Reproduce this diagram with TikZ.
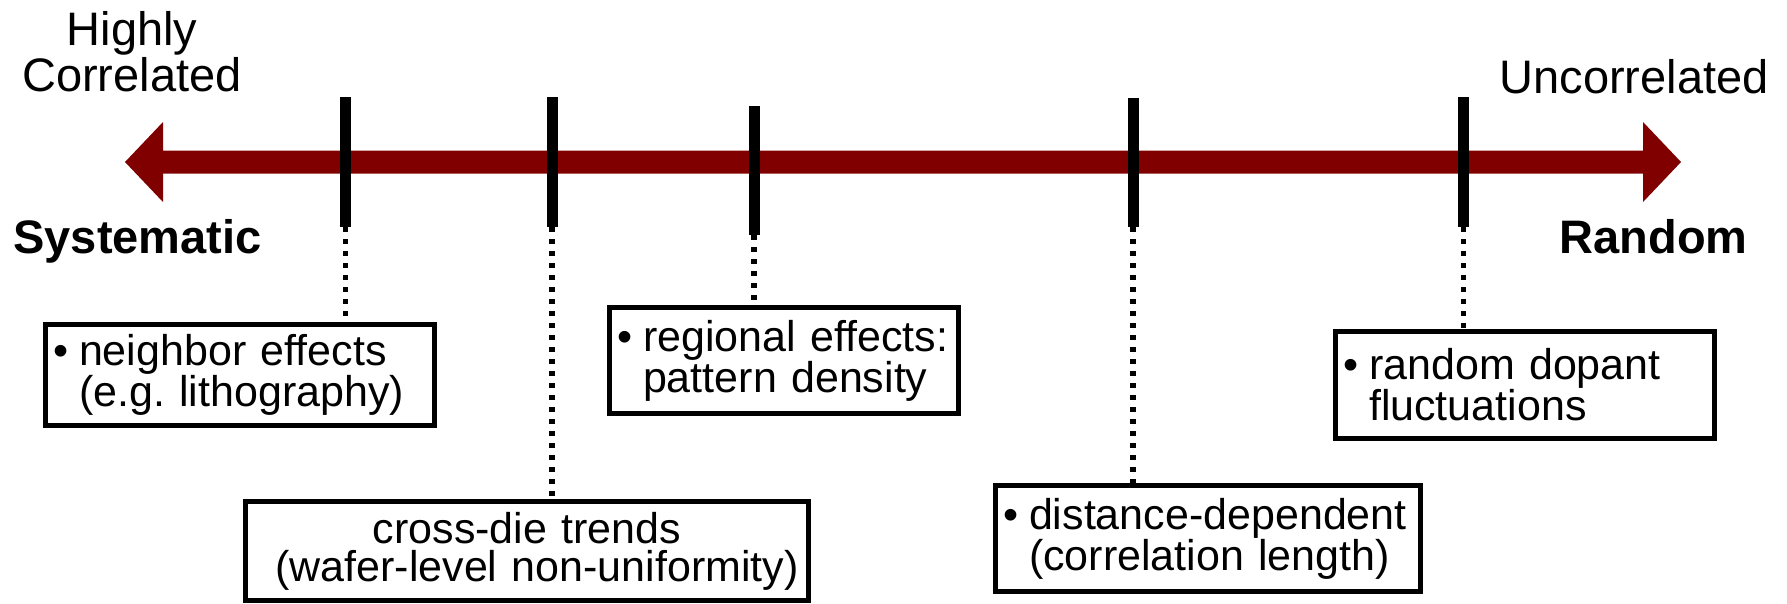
\documentclass[tikz,border=0pt]{standalone}
\usepackage{fontspec}
\setmainfont{Liberation Sans}
\definecolor{axisred}{RGB}{128,0,0}
\newsavebox{\bulletbox}
\newlength{\bulletwd}
\tikzset{
  lbl/.style={font=\fontsize{47}{46}\selectfont, inner sep=0pt, outer sep=0pt},
  lblbold/.style={font=\fontsize{47}{46}\selectfont\bfseries, inner sep=0pt, outer sep=0pt},
  tickbar/.style={rectangle, fill=black, inner sep=0pt, outer sep=0pt, minimum width=11pt},
  infobox/.style={rectangle, draw=black, line width=5pt, outer sep=2.5pt,
    inner xsep=7.5pt, inner ysep=0pt, font=\fontsize{43}{38}\selectfont},
  leader/.style={line width=5.5pt, dash pattern=on 5pt off 7pt},
}
% bullet at the start of an item; \bindent aligns the next lines with its text
\newcommand{\bitem}{%
  \lineskiplimit=-100pt
  \sbox{\bulletbox}{•\hspace{11pt}}%
  \setlength{\bulletwd}{\wd\bulletbox}%
  \usebox{\bulletbox}}
\newcommand{\bindent}{\hspace*{\bulletwd}}
\begin{document}
\begin{tikzpicture}[x=1pt, y=-1pt]
  \useasboundingbox (0,0) rectangle (1787,603);

  % main axis: double-headed arrow
  \fill[axisred] (125,162) -- (163,122) -- (163,150.5) -- (1643,150.5) -- (1643,122)
    -- (1681,162) -- (1643,202) -- (1643,173.5) -- (163,173.5) -- (163,202) -- cycle;

  % end labels
  \node[lbl, align=center, anchor=north] (hc) at (132,11.3) {Highly\\Correlated};
  \node[lbl, anchor=base] (unc) at (1634,93) {Uncorrelated};
  \node[lblbold, anchor=base] (sys) at (137.5,253) {Systematic};
  \node[lblbold, anchor=base] (rnd) at (1653.5,253) {Random};

  % tick marks on the axis
  \node[tickbar, minimum height=130pt, anchor=north] (t1) at (345.5,97) {};
  \node[tickbar, minimum height=130pt, anchor=north] (t2) at (552,97) {};
  \node[tickbar, minimum height=129pt, anchor=north] (t3) at (754,106) {};
  \node[tickbar, minimum height=129pt, anchor=north] (t4) at (1133,98) {};
  \node[tickbar, minimum height=130pt, anchor=north] (t5) at (1463.5,97) {};

  % description boxes
  \node[infobox, minimum width=389pt, minimum height=101pt, text width=374pt, align=left]
    (b1) at (240,375) {\bitem neighbor effects\\\bindent(e.g.\ lithography)};
  \node[infobox, minimum width=563pt, minimum height=99pt, text width=548pt, align=center]
    (b2) at (527,551) {\lineskiplimit=-100pt cross-die trends\\\hspace*{20pt}(wafer-level non-uniformity)};
  \node[infobox, minimum width=349pt, minimum height=106pt, text width=334pt, align=left]
    (b3) at (784,360.5) {\bitem regional effects:\\\bindent pattern density};
  \node[infobox, minimum width=425pt, minimum height=106pt, text width=410pt, align=left]
    (b4) at (1208,538.5) {\bitem distance-dependent\\\bindent(correlation length)};
  \node[infobox, minimum width=379pt, minimum height=107pt, text width=364pt, align=left]
    (b5) at (1525,385) {\bitem random dopant\\\bindent fluctuations};

  % dotted leaders from ticks to boxes
  \draw[leader] (t1.south) -- (t1.south |- b1.north);
  \draw[leader] (t2.south) -- (t2.south |- b2.north);
  \draw[leader] (t3.south) -- (t3.south |- b3.north);
  \draw[leader] (t4.south) -- (t4.south |- b4.north);
  \draw[leader] (t5.south) -- (t5.south |- b5.north);
\end{tikzpicture}
\end{document}
